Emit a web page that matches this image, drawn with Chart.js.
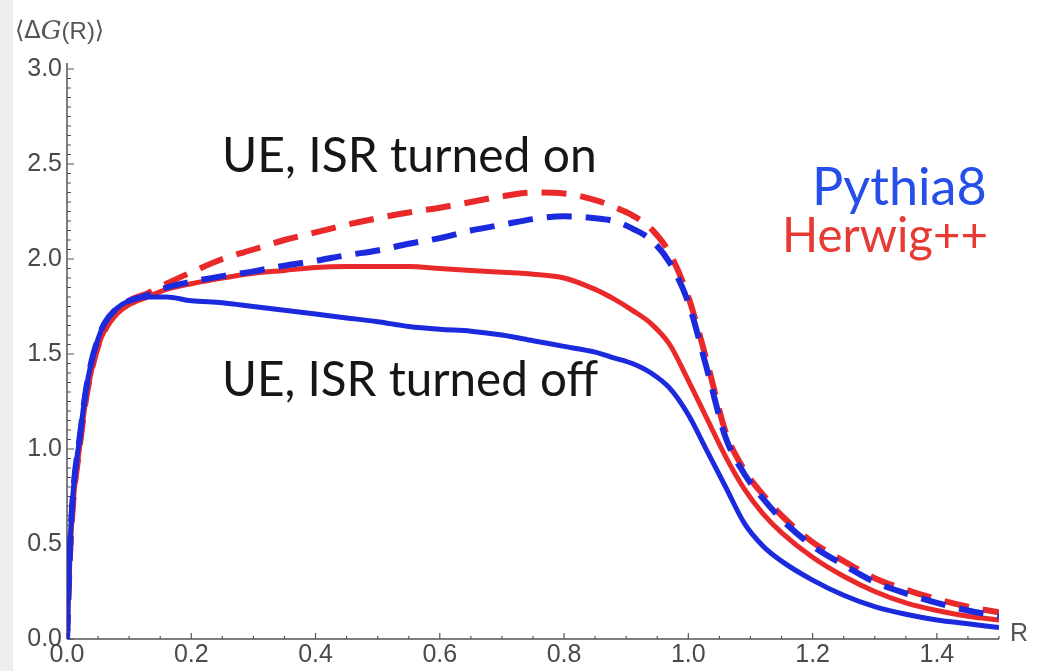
<!DOCTYPE html>
<html>
<head>
<meta charset="utf-8">
<script src="https://cdn.jsdelivr.net/npm/chart.js@4.4.1/dist/chart.umd.min.js"></script>
<style>
  html, body { margin: 0; padding: 0; background: #ffffff; }
  #wrap { width: 1039px; height: 671px; position: relative; }
</style>
</head>
<body>
<div id="wrap"><canvas id="c" width="1039" height="671"></canvas></div>
<script>
// Jet-shape observable <ΔG(R)> versus cone radius R
const rValues = [0, 0.005, 0.01, 0.02, 0.03, 0.04, 0.05, 0.06, 0.08, 0.1, 0.13, 0.16, 0.2, 0.25, 0.3,
  0.35, 0.4, 0.45, 0.5, 0.55, 0.6, 0.65, 0.7, 0.75, 0.8, 0.85, 0.88, 0.91, 0.94, 0.97, 1.0, 1.03,
  1.06, 1.09, 1.12, 1.15, 1.2, 1.25, 1.3, 1.35, 1.4, 1.45, 1.5];

// UE and ISR switched off
const pythiaIsrOff = [0, 0.5, 0.78, 1.05, 1.3, 1.47, 1.58, 1.66, 1.74, 1.78, 1.8, 1.8, 1.78, 1.77, 1.75,
  1.73, 1.71, 1.69, 1.67, 1.645, 1.63, 1.62, 1.6, 1.57, 1.54, 1.51, 1.48, 1.45, 1.4, 1.32, 1.18, 0.99,
  0.8, 0.61, 0.49, 0.41, 0.31, 0.23, 0.17, 0.13, 0.1, 0.08, 0.06];
const herwigIsrOff = [0, 0.45, 0.72, 1.0, 1.25, 1.42, 1.54, 1.62, 1.71, 1.76, 1.8, 1.84, 1.87, 1.9, 1.925,
  1.94, 1.955, 1.96, 1.96, 1.96, 1.95, 1.94, 1.93, 1.92, 1.9, 1.84, 1.79, 1.73, 1.66, 1.55, 1.36, 1.16,
  0.96, 0.79, 0.66, 0.56, 0.43, 0.33, 0.25, 0.19, 0.15, 0.12, 0.1];

// UE and ISR switched on
const pythiaIsrOn = [0, 0.5, 0.78, 1.05, 1.3, 1.47, 1.58, 1.66, 1.74, 1.78, 1.81, 1.85, 1.88, 1.91, 1.935,
  1.965, 1.99, 2.02, 2.045, 2.08, 2.11, 2.15, 2.18, 2.21, 2.225, 2.215, 2.2, 2.16, 2.1, 1.98, 1.77, 1.42,
  1.06, 0.87, 0.74, 0.63, 0.49, 0.39, 0.3, 0.24, 0.19, 0.15, 0.12];
const herwigIsrOn = [0, 0.45, 0.72, 1.0, 1.25, 1.42, 1.54, 1.62, 1.72, 1.78, 1.82, 1.87, 1.93, 2.0, 2.05,
  2.1, 2.14, 2.18, 2.215, 2.245, 2.27, 2.3, 2.33, 2.35, 2.345, 2.31, 2.275, 2.23, 2.16, 2.03, 1.8, 1.46,
  1.09, 0.89, 0.76, 0.65, 0.51, 0.41, 0.32, 0.26, 0.21, 0.17, 0.14];

const xMajorTicks = [0, 0.2, 0.4, 0.6, 0.8, 1.0, 1.2, 1.4];
const yMajorTicks = [0, 0.5, 1.0, 1.5, 2.0, 2.5, 3.0];

const BLUE = 'rgb(28,42,222)';
const RED = 'rgb(234,42,42)';
const TICK_FONT = { family: '"Liberation Sans", Arial, sans-serif', size: 25 };

const toPoints = (ys) => rValues.map((r, i) => ({ x: r, y: ys[i] }));

function lineSet(label, ys, color, dashed) {
  return {
    label,
    data: toPoints(ys),
    borderColor: color,
    borderWidth: dashed ? 6 : 5,
    borderDash: dashed ? [25, 14] : [],
    borderCapStyle: 'butt',
    pointRadius: 0,
    fill: false,
    cubicInterpolationMode: 'monotone'
  };
}

// Frame: axis lines with inward major/minor ticks, plus the text annotations
const framePlugin = {
  id: 'frame',
  beforeDraw(chart) {
    const ctx = chart.ctx;
    ctx.save();
    ctx.fillStyle = '#ffffff';
    ctx.fillRect(0, 0, chart.width, chart.height);
    ctx.fillStyle = '#eeeeee';
    ctx.fillRect(0, 0, 13, chart.height);
    ctx.restore();
  },
  beforeDatasetsDraw(chart) {
    const { ctx, chartArea: a, scales: { x, y } } = chart;
    ctx.save();
    ctx.strokeStyle = '#555555';
    ctx.lineWidth = 1.5;
    ctx.beginPath();
    ctx.moveTo(a.left, a.bottom);
    ctx.lineTo(a.right, a.bottom);
    ctx.moveTo(a.left, a.bottom);
    ctx.lineTo(a.left, a.top - 6);
    ctx.stroke();
    ctx.lineWidth = 1.2;
    ctx.beginPath();
    for (let i = 0; i <= 30; i++) {
      const px = x.getPixelForValue(i * 0.05);
      const len = i % 4 === 0 ? 6 : 3;
      ctx.moveTo(px, a.bottom);
      ctx.lineTo(px, a.bottom - len);
    }
    for (let i = 0; i <= 60; i++) {
      const py = y.getPixelForValue(i * 0.05);
      const len = i % 10 === 0 ? 7 : 4;
      ctx.moveTo(a.left, py);
      ctx.lineTo(a.left + len, py);
    }
    ctx.stroke();
    ctx.restore();
  },
  afterDraw(chart) {
    const ctx = chart.ctx;
    ctx.save();
    // y-axis title
    ctx.fillStyle = '#555555';
    ctx.textBaseline = 'middle';
    let cx = 15;
    const ty = 32;
    ctx.font = '24px "DejaVu Sans", sans-serif';
    ctx.fillText('⟨Δ', cx, ty);
    cx += ctx.measureText('⟨Δ').width;
    ctx.font = 'italic 26px "DejaVu Serif", serif';
    ctx.fillText('G', cx, ty);
    cx += ctx.measureText('G').width;
    ctx.font = '24px "Liberation Sans", sans-serif';
    ctx.fillText('(R)', cx, ty);
    cx += ctx.measureText('(R)').width;
    ctx.font = '24px "DejaVu Sans", sans-serif';
    ctx.fillText('⟩', cx, ty);
    // x-axis title
    ctx.font = '25px "Liberation Sans", sans-serif';
    ctx.fillText('R', 1010, 634);

    // annotations
    ctx.textBaseline = 'alphabetic';
    const fit = (text, width, color, left, baseline) => {
      ctx.font = '40px Lato, sans-serif';
      const size = 40 * width / ctx.measureText(text).width;
      ctx.font = size.toFixed(1) + 'px Lato, sans-serif';
      ctx.fillStyle = color;
      ctx.fillText(text, left, baseline);
    };
    fit('UE, ISR turned on', 375, '#161616', 222, 172);
    fit('UE, ISR turned off', 376, '#161616', 222, 396);
    fit('Pythia8', 175, 'rgb(38,78,232)', 812, 205);
    fit('Herwig++', 206, 'rgb(230,58,50)', 782, 252);
    ctx.restore();
  }
};

new Chart(document.getElementById('c'), {
  type: 'line',
  data: {
    datasets: [
      lineSet('Pythia8, UE+ISR on', pythiaIsrOn, BLUE, true),
      lineSet('Pythia8, UE+ISR off', pythiaIsrOff, BLUE, false),
      lineSet('Herwig++, UE+ISR on', herwigIsrOn, RED, true),
      lineSet('Herwig++, UE+ISR off', herwigIsrOff, RED, false)
    ]
  },
  options: {
    responsive: false,
    animation: false,
    devicePixelRatio: 1,
    layout: { padding: { top: 69, right: 40, bottom: 0, left: 0 } },
    plugins: { legend: { display: false }, tooltip: { enabled: false } },
    scales: {
      x: {
        type: 'linear',
        min: 0,
        max: 1.5,
        afterBuildTicks: (s) => { s.ticks = xMajorTicks.map(v => ({ value: v })); },
        afterFit: (s) => { s.height = 32; },
        grid: { display: false, drawTicks: false },
        border: { display: false },
        ticks: {
          autoSkip: false, maxRotation: 0, padding: 1,
          color: '#4a4a4a', font: TICK_FONT,
          callback: (v) => Number(v).toFixed(1)
        }
      },
      y: {
        type: 'linear',
        min: 0,
        max: 3,
        afterBuildTicks: (s) => { s.ticks = yMajorTicks.map(v => ({ value: v })); },
        afterFit: (s) => { s.width = 67; },
        grid: { display: false, drawTicks: false },
        border: { display: false },
        ticks: {
          padding: 5,
          color: '#4a4a4a', font: TICK_FONT,
          callback: (v) => Number(v).toFixed(1)
        }
      }
    }
  },
  plugins: [framePlugin]
});
</script>
</body>
</html>
